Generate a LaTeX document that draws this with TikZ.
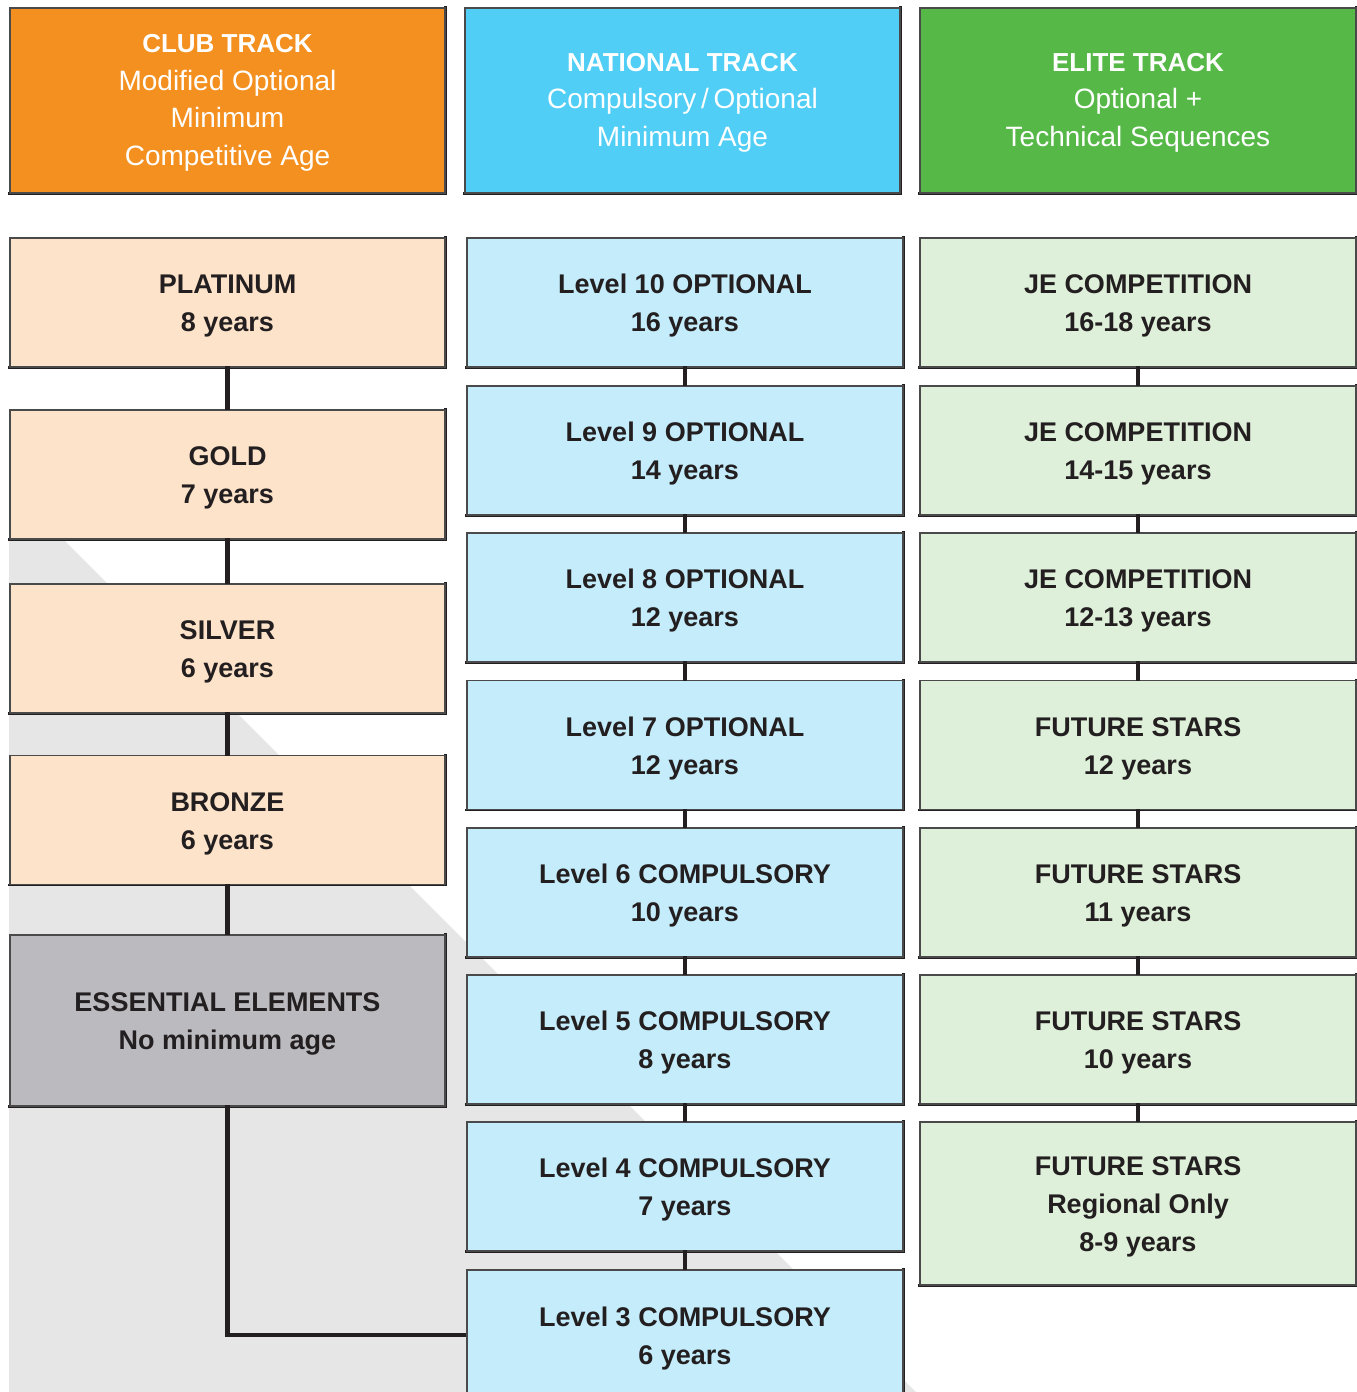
\documentclass[tikz,border=0pt]{standalone}
\usepackage{fontspec}
\setmainfont{Liberation Sans}
\definecolor{edge}{HTML}{4A4A4A}
\definecolor{edgedark}{HTML}{231F20}
\definecolor{txt}{HTML}{231F20}
\definecolor{orangeH}{HTML}{F39020}
\definecolor{blueH}{HTML}{50CEF6}
\definecolor{greenH}{HTML}{55B847}
\definecolor{orangeL}{HTML}{FDE3C9}
\definecolor{blueL}{HTML}{C4ECFA}
\definecolor{greenL}{HTML}{DFF0DA}
\definecolor{grayBox}{HTML}{BBBABF}
\definecolor{grayBg}{HTML}{E6E6E7}
\newcommand\hbf[1]{{\fontsize{26}{37.5}\selectfont\bfseries\rule{0pt}{22.5pt}#1}}
\newcommand\tp{\rule{0pt}{26.5pt}}
\begin{document}
\begin{tikzpicture}[x=1pt,y=-1pt,
  basebox/.style={draw=edge, line width=1.2pt, inner sep=0pt, align=center,
    append after command={\pgfextra{\draw[edgedark, line width=2.6pt, line cap=rect]
      (\tikzlastnode.south west) -- (\tikzlastnode.south east) -- (\tikzlastnode.north east);}}},
  header/.style={basebox, text=white, minimum width=435pt, minimum height=185pt,
    font=\fontsize{28}{37.5}\selectfont},
  level/.style={basebox, text=txt, minimum width=436pt, minimum height=129pt,
    font=\fontsize{27}{38}\selectfont\bfseries},
  club/.style={level, fill=orangeL, minimum width=435pt},
  nat/.style={level, fill=blueL},
  elite/.style={level, fill=greenL},
  link/.style={draw=edgedark, line width=4.5pt}
]
\useasboundingbox (0,0) rectangle (1357,1392);
\fill[white] (0,0) rectangle (1357,1392);
\fill[grayBg] (9,485) -- (916,1392) -- (9,1392) -- cycle;

% headers
\node[header, fill=orangeH] (hclub) at (227.5,100.5) {\hbf{CLUB TRACK}\\Modified Optional\\Minimum\\Competitive Age};
\node[header, fill=blueH] (hnat) at (682.5,100.5) {\hbf{NATIONAL TRACK}\\Compulsory\,/\,Optional\\Minimum Age};
\node[header, fill=greenH, minimum width=436pt] (helite) at (1138,100.5) {\hbf{ELITE TRACK}\\Optional +\\Technical Sequences};

% club track
\node[club] (plat) at (227.5,302.5) {\tp PLATINUM\\8 years};
\node[club] (gold) at (227.5,474.5) {\tp GOLD\\7 years};
\node[club] (silver) at (227.5,648.5) {\tp SILVER\\6 years};
\node[club] (bronze) at (227.5,820) {\tp BRONZE\\6 years};
\node[club, fill=grayBox, minimum height=171pt] (ess) at (227.5,1020.5) {\tp ESSENTIAL ELEMENTS\\No minimum age};

% national track
\node[nat] (l10) at (685,302.5) {\tp Level 10 OPTIONAL\\16 years};
\node[nat] (l9) at (685,450.5) {\tp Level 9 OPTIONAL\\14 years};
\node[nat] (l8) at (685,597.5) {\tp Level 8 OPTIONAL\\12 years};
\node[nat] (l7) at (685,745) {\tp Level 7 OPTIONAL\\12 years};
\node[nat] (l6) at (685,892.5) {\tp Level 6 COMPULSORY\\10 years};
\node[nat] (l5) at (685,1039.5) {\tp Level 5 COMPULSORY\\8 years};
\node[nat] (l4) at (685,1186.5) {\tp Level 4 COMPULSORY\\7 years};
\node[nat, minimum height=130pt] (l3) at (685,1335) {\tp Level 3 COMPULSORY\\6 years};

% elite track
\node[elite] (e1) at (1138,302.5) {\tp JE COMPETITION\\16-18 years};
\node[elite] (e2) at (1138,450.5) {\tp JE COMPETITION\\14-15 years};
\node[elite] (e3) at (1138,597.5) {\tp JE COMPETITION\\12-13 years};
\node[elite] (e4) at (1138,745) {\tp FUTURE STARS\\12 years};
\node[elite] (e5) at (1138,892.5) {\tp FUTURE STARS\\11 years};
\node[elite] (e6) at (1138,1039.5) {\tp FUTURE STARS\\10 years};
\node[elite, minimum height=163pt] (e7) at (1138,1203.5) {\tp FUTURE STARS\\Regional Only\\8-9 years};

% connectors
\foreach \a/\b in {plat/gold, gold/silver, silver/bronze, bronze/ess,
  l10/l9, l9/l8, l8/l7, l7/l6, l6/l5, l5/l4, l4/l3,
  e1/e2, e2/e3, e3/e4, e4/e5, e5/e6, e6/e7}
  \draw[link] ([yshift=1.3pt]\a.south) -- ([yshift=-0.6pt]\b.north);
\draw[link] ([yshift=1.3pt]ess.south) |- (l3.west);
\end{tikzpicture}
\end{document}
